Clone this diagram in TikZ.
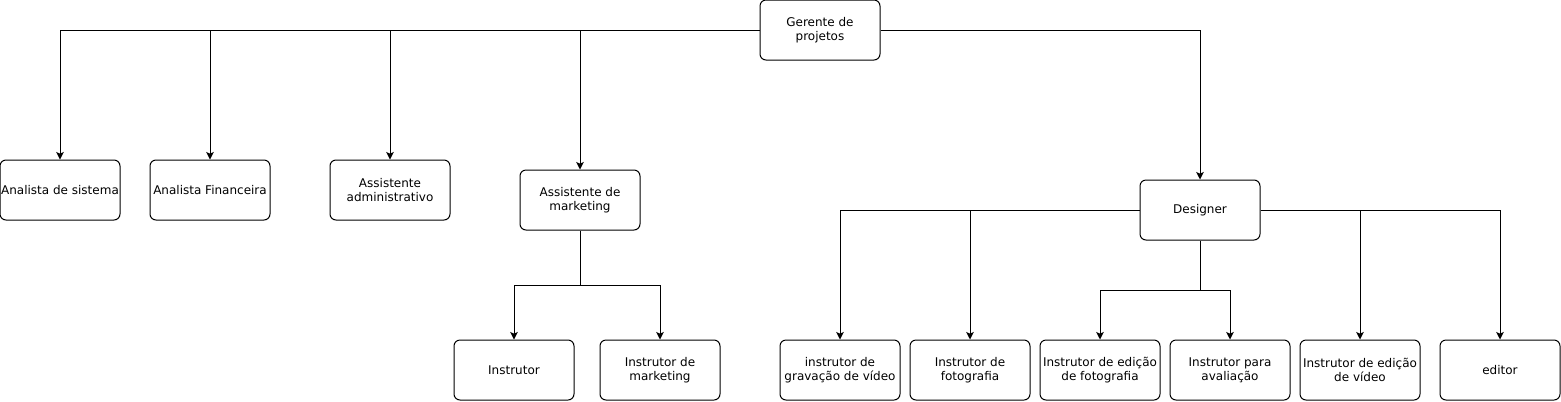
\documentclass[tikz,border=0pt]{standalone}
\usepackage{fontspec}
\setmainfont{DejaVu Sans}
\usetikzlibrary{arrows.meta}
\begin{document}
\begin{tikzpicture}[x=0.75pt,y=-0.75pt,
  box/.style={draw, line width=0.75pt, rounded corners=4.5pt, minimum width=90pt, minimum height=45pt,
    inner sep=0pt, align=center, font=\fontsize{9pt}{10.5pt}\selectfont},
  conn/.style={line width=0.75pt},
  arr/.style={conn, -{Stealth[length=5.6pt,width=5.6pt,inset=1.2pt]}}]
\useasboundingbox (0,0) rectangle (1561,401);
\node[box] (ger) at (820,30) {Gerente de\\projetos};
\node[box] (ansis) at (60,190) {Analista de sistema};
\node[box] (anfin) at (210,190) {Analista Financeira};
\node[box] (assadm) at (390,190) {Assistente\\administrativo};
\node[box] (assmkt) at (580,200) {Assistente de\\marketing};
\node[box] (des) at (1200,210) {Designer};
\node[box] (instr) at (514,370) {Instrutor};
\node[box] (instmkt) at (660,370) {Instrutor de\\marketing};
\node[box] (grav) at (840,370) {instrutor de\\gravação de vídeo};
\node[box] (foto) at (970,370) {Instrutor de\\fotografia};
\node[box] (edfoto) at (1100,370) {Instrutor de edição\\de fotografia};
\node[box] (aval) at (1230,370) {Instrutor para\\avaliação};
\node[box] (edvid) at (1360,370) {Instrutor de edição\\de vídeo};
\node[box] (editor) at (1500,370) {editor};
% Gerente branches
\draw[arr] (ger.west) -| (ansis.north);
\draw[arr] (ger.west) -| (anfin.north);
\draw[arr] (ger.west) -| (assadm.north);
\draw[arr] (ger.west) -| (assmkt.north);
\draw[arr] (ger.east) -| (des.north);
% Assistente de marketing
\coordinate (mk) at (580,285);
\draw[conn] (assmkt.south) -- (mk);
\draw[arr] (mk) -| (instr.north);
\draw[arr] (mk) -| (instmkt.north);
% Designer
\draw[arr] (des.west) -| (grav.north);
\draw[arr] (des.west) -| (foto.north);
\draw[arr] (des.east) -| (edvid.north);
\draw[arr] (des.east) -| (editor.north);
\coordinate (dk) at (1200,290);
\draw[conn] (des.south) -- (dk);
\draw[arr] (dk) -| (edfoto.north);
\draw[arr] (dk) -| (aval.north);
\end{tikzpicture}
\end{document}
